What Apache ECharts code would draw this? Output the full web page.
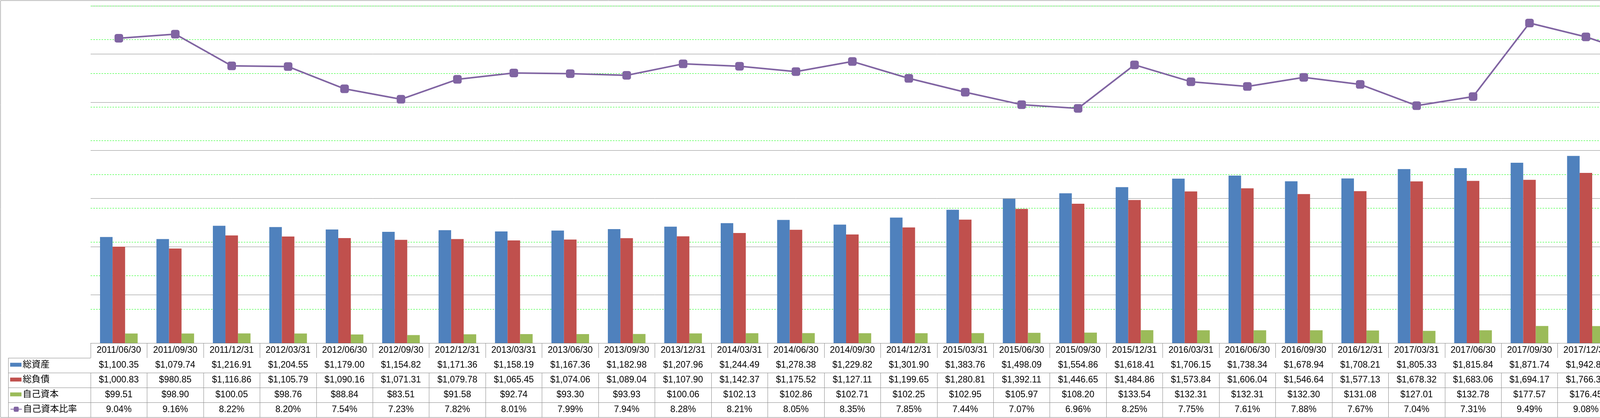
<!DOCTYPE html>
<html>
<head>
<meta charset="utf-8">
<script src="https://cdn.jsdelivr.net/npm/echarts@6/dist/echarts.min.js"></script>
<style>
html,body{margin:0;padding:0;background:#fff;overflow:hidden;}
#chart{width:6227px;height:1071px;}
</style>
</head>
<body>
<div id="chart"></div>
<script>
const categories = ['2011/06/30','2011/09/30','2011/12/31','2012/03/31','2012/06/30','2012/09/30','2012/12/31','2013/03/31','2013/06/30','2013/09/30','2013/12/31','2014/03/31','2014/06/30','2014/09/30','2014/12/31','2015/03/31','2015/06/30','2015/09/30','2015/12/31','2016/03/31','2016/06/30','2016/09/30','2016/12/31','2017/03/31','2017/06/30','2017/09/30','2017/12/31','2018/03/31','2018/06/30','2018/09/30','2018/12/31','2019/03/31','2019/06/30','2019/09/30','2019/12/31','2020/03/31','2020/06/30','2020/09/30','2020/12/31','2021/03/31'];
const totalAssets = [1100.35,1079.74,1216.91,1204.55,1179.00,1154.82,1171.36,1158.19,1167.36,1182.98,1207.96,1244.49,1278.38,1229.82,1301.90,1383.76,1498.09,1554.86,1618.41,1706.15,1738.34,1678.94,1708.21,1805.33,1815.84,1871.74,1942.84,2082.31,2516.56,2637.87,2674.73,2718.40,2738.13,2825.50,2907.47,2942.00,2986.88,2842.32,2821.02,2852.46];
const totalLiabilities = [1000.83,980.85,1116.86,1105.79,1090.16,1071.31,1079.78,1065.45,1074.06,1089.04,1107.90,1142.37,1175.52,1127.11,1199.65,1280.81,1392.11,1446.65,1484.86,1573.84,1606.04,1546.64,1577.13,1678.32,1683.06,1694.17,1766.38,1904.93,2322.49,2442.11,2474.52,2501.68,2516.98,2601.78,2668.00,2701.37,2745.86,2599.63,2571.81,2599.01];
const equity = [99.51,98.90,100.05,98.76,88.84,83.51,91.58,92.74,93.30,93.93,100.06,102.13,102.86,102.71,102.25,102.95,105.97,108.20,133.54,132.31,132.31,132.30,131.08,127.01,132.78,177.57,176.45,177.39,194.08,195.76,200.22,216.72,221.15,223.72,239.47,240.64,241.02,242.69,249.21,253.45];
const equityRatio = [9.04,9.16,8.22,8.20,7.54,7.23,7.82,8.01,7.99,7.94,8.28,8.21,8.05,8.35,7.85,7.44,7.07,6.96,8.25,7.75,7.61,7.88,7.67,7.04,7.31,9.49,9.08,8.52,7.71,7.42,7.49,7.97,8.08,7.92,8.24,8.18,8.07,8.54,8.83,8.89];
const seriesNames = ['総資産','総負債','自己資本','自己資本比率'];
const unitText = '（単位:百万USD）';

const FONT = "'Liberation Sans', 'Noto Sans CJK JP', sans-serif";
const GRAY = '#888888';
const GREEN = '#00ff00';
const COLORS = ['#4F81BD','#C0504D','#9BBB59','#8064A2'];

const money = v => '$' + v.toLocaleString('en-US',{minimumFractionDigits:2,maximumFractionDigits:2});
const pct = v => v.toFixed(2) + '%';

const GRID_L = 232, GRID_R = 6010, GRID_B = 879, ROW = 38;

const rows = [
  {fmt: i => categories[i]},
  {fmt: i => money(totalAssets[i])},
  {fmt: i => money(totalLiabilities[i])},
  {fmt: i => money(equity[i])},
  {fmt: i => pct(equityRatio[i])}
];

const xAxes = rows.map((r, k) => ({
  type: 'category',
  data: categories,
  gridIndex: 0,
  position: 'bottom',
  offset: k * ROW,
  boundaryGap: true,
  axisLine: {show: true, lineStyle: {color: GRAY, width: 1}},
  axisTick: {show: true, interval: 0, length: ROW, inside: false, alignWithLabel: false, lineStyle: {color: GRAY, width: 1}},
  axisLabel: {
    show: true, interval: 0, margin: ROW / 2, verticalAlign: 'middle',
    fontSize: 23, fontFamily: FONT, color: '#000',
    formatter: (v, i) => r.fmt(i)
  },
  splitLine: {show: false}
}));

const legendRowTop = [GRID_B + ROW, GRID_B + 2*ROW, GRID_B + 3*ROW, GRID_B + 4*ROW];
const legends = [];
seriesNames.forEach((n, k) => {
  [{x: 26, w: 29, h: 10, fs: 23}, {x: 6017, w: 32, h: 13, fs: 24}].forEach(c => {
    legends.push({
      data: [n], left: c.x, top: legendRowTop[k] + 6, padding: 0,
      orient: 'horizontal', itemWidth: c.w, itemHeight: k === 3 ? 16 : c.h, itemGap: 0,
      textStyle: {fontSize: c.fs, fontFamily: FONT, color: '#000', padding: [0,0,0,-2]},
      icon: k === 3 ? undefined : 'rect'
    });
  });
});

const graphics = [
  {type: 'rect', shape: {x: 1.5, y: 1.5, width: 6224, height: 1068}, style: {fill: 'none', stroke: GRAY, lineWidth: 1}, silent: true},
  {type: 'line', shape: {x1: 21.5, y1: GRID_B + ROW, x2: 21.5, y2: GRID_B + 5*ROW}, style: {stroke: GRAY, lineWidth: 1}, silent: true},
  {type: 'line', shape: {x1: 21.5, y1: GRID_B + 5*ROW + 0.5, x2: GRID_R, y2: GRID_B + 5*ROW + 0.5}, style: {stroke: GRAY, lineWidth: 1}, silent: true}
];
for (let k = 1; k <= 4; k++) {
  graphics.push({type: 'line', shape: {x1: 21.5, y1: GRID_B + k*ROW + 0.5, x2: GRID_L, y2: GRID_B + k*ROW + 0.5}, style: {stroke: GRAY, lineWidth: 1}, silent: true});
}
graphics.push({type: 'text', left: 6030, top: 896, style: {text: unitText, fontSize: 19, fontFamily: FONT, fill: '#000'}, silent: true});

const option = {
  backgroundColor: '#fff',
  animation: false,
  grid: {left: GRID_L, right: 6227 - GRID_R, top: 15, bottom: 1071 - GRID_B, containLabel: false},
  legend: legends,
  xAxis: xAxes,
  yAxis: [
    {
      type: 'value', position: 'right', min: 0, max: 3500, interval: 500,
      axisLine: {show: true, lineStyle: {color: GRAY, width: 1}},
      axisTick: {show: false},
      axisLabel: {margin: 93, align: 'right', fontSize: 22, fontFamily: FONT, color: '#000',
        formatter: v => '$' + v.toLocaleString('en-US')},
      splitLine: {show: true, lineStyle: {color: GRAY, width: 1}}
    },
    {
      type: 'value', position: 'right', offset: 97, min: 0, max: 10, interval: 1,
      axisLine: {show: true, lineStyle: {color: GREEN, width: 1, type: [4,3]}},
      axisTick: {show: true, length: 7, inside: false, lineStyle: {color: GREEN, width: 1, type: [4,3]}},
      axisLabel: {margin: 22, fontSize: 22, fontFamily: FONT, color: '#000', formatter: v => v.toFixed(2) + '%'},
      splitLine: {show: true, lineStyle: {color: GREEN, width: 1, type: [4,3]}}
    }
  ],
  graphic: graphics,
  series: [
    {name: seriesNames[0], type: 'bar', data: totalAssets, itemStyle: {color: COLORS[0]}, barGap: '0%', barCategoryGap: '33.3%', yAxisIndex: 0, xAxisIndex: 0},
    {name: seriesNames[1], type: 'bar', data: totalLiabilities, itemStyle: {color: COLORS[1]}, barGap: '0%', barCategoryGap: '33.3%', yAxisIndex: 0, xAxisIndex: 0},
    {name: seriesNames[2], type: 'bar', data: equity, itemStyle: {color: COLORS[2]}, barGap: '0%', barCategoryGap: '33.3%', yAxisIndex: 0, xAxisIndex: 0},
    {name: seriesNames[3], type: 'line', data: equityRatio, yAxisIndex: 1, xAxisIndex: 0,
      symbol: 'roundRect', symbolSize: 22, z: 5,
      lineStyle: {color: COLORS[3], width: 4}, itemStyle: {color: COLORS[3]}}
  ]
};

const chart = echarts.init(document.getElementById('chart'), null, {renderer: 'canvas'});
chart.setOption(option);
</script>
</body>
</html>
